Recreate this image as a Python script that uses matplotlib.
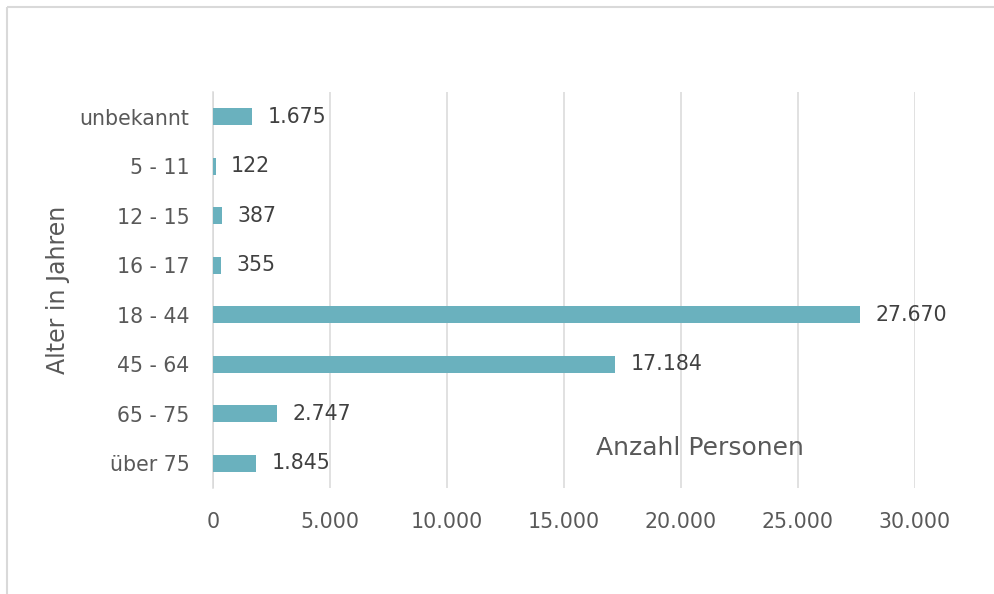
import numpy as np
import matplotlib.pyplot as plt
from matplotlib.lines import Line2D

# Altersgruppen (von oben nach unten) und Anzahl Personen
age_groups = ['unbekannt', '5 - 11', '12 - 15', '16 - 17', '18 - 44', '45 - 64', '65 - 75', 'über 75']
persons = [1675, 122, 387, 355, 27670, 17184, 2747, 1845]
x_ticks = [0, 5000, 10000, 15000, 20000, 25000, 30000]

bar_color = '#6AB1BE'
grid_color = '#D9D9D9'
tick_color = '#595959'
label_color = '#404040'

plt.rcParams['font.family'] = ['DejaVu Sans']


def fmt(v):
    return f'{v:,}'.replace(',', '.')


fig = plt.figure(figsize=(9.95, 5.94), dpi=100, facecolor='white', edgecolor='white', linewidth=0)
ax = fig.add_axes([213 / 995, 1 - 488 / 594, 702 / 995, 396 / 594])

y = np.arange(len(age_groups))
ax.barh(y, persons, height=0.35, color=bar_color, zorder=3)
ax.set_ylim(len(age_groups) - 0.5, -0.5)
ax.set_xlim(0, 30000)

ax.set_yticks(y)
ax.set_yticklabels(age_groups)
ax.set_xticks(x_ticks)
ax.set_xticklabels([fmt(t) for t in x_ticks])
ax.tick_params(axis='both', length=0, labelsize=14.8, colors=tick_color)
ax.tick_params(axis='x', pad=17)
ax.tick_params(axis='y', pad=17)

ax.grid(axis='x', color=grid_color, linewidth=1.1, zorder=0)
for side in ['top', 'right', 'bottom']:
    ax.spines[side].set_visible(False)
ax.spines['left'].set_color(grid_color)
ax.spines['left'].set_linewidth(1.1)

# Datenbeschriftungen
for yi, v in zip(y, persons):
    ax.annotate(fmt(v), xy=(v, yi), xytext=(11, 0), textcoords='offset points',
                ha='left', va='center', fontsize=14.8, color=label_color)

fig.text(700 / 995, 1 - 448 / 594, 'Anzahl Personen', ha='center', va='center',
         fontsize=18, color=tick_color)
fig.text(58 / 995, 1 - 290 / 594, 'Alter in Jahren', ha='center', va='center',
         rotation=90, fontsize=17, color=tick_color)

# Rahmen des Diagrammbereichs (nur oben und links sichtbar)
x0 = 7.5 / 995
y0 = 1 - 6.5 / 594
fig.lines.append(Line2D([x0, 1.01], [y0, y0], transform=fig.transFigure,
                        color=grid_color, linewidth=1.5, solid_capstyle='butt'))
fig.lines.append(Line2D([x0, x0], [-0.01, y0], transform=fig.transFigure,
                        color=grid_color, linewidth=1.5, solid_capstyle='butt'))

fig.savefig('out.png', dpi=100, facecolor='white', edgecolor='white')
